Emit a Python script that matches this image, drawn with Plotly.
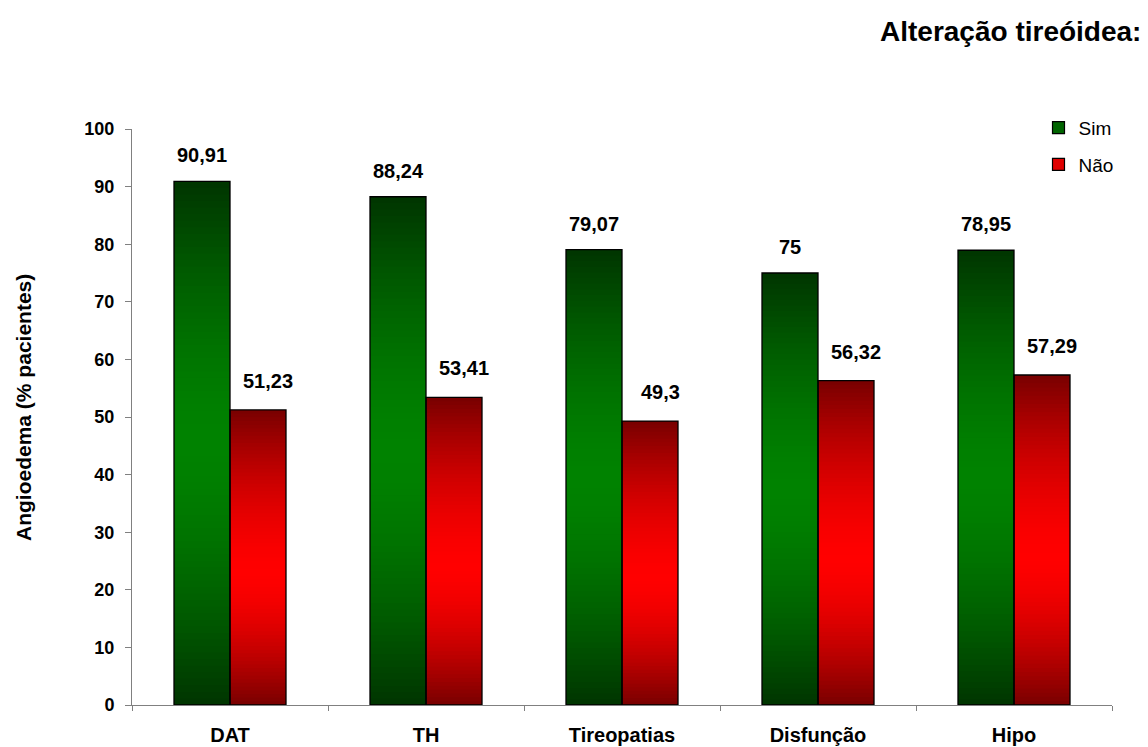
import plotly.graph_objects as go

categories = ["DAT", "TH", "Tireopatias", "Disfunção", "Hipo"]
sim_values = [90.91, 88.24, 79.07, 75.0, 78.95]
nao_values = [51.23, 53.41, 49.3, 56.32, 57.29]
y_ticks = [0, 10, 20, 30, 40, 50, 60, 70, 80, 90, 100]

FONT = "Liberation Sans, Arial, sans-serif"
N_SEG = 80          # slices used to paint the vertical gradient of each bar
BAR_W = 0.2857      # width of one bar, in category units


def fmt(v):
    s = f"{v:.2f}".rstrip("0").rstrip(".")
    return s.replace(".", ",")


def shade(dark, bright, f):
    return "rgb({},{},{})".format(*[round(d + (b - d) * f) for d, b in zip(dark, bright)])


def gradient_trace(values, offset, dark, bright, peak):
    xs, bases, heights, colors = [], [], [], []
    for cat, v in zip(categories, values):
        h = v / N_SEG
        for i in range(N_SEG):
            t = (i + 0.5) / N_SEG
            # bright band near `peak`, darkening toward top and bottom
            if t < peak:
                d = (peak - t) / peak
            else:
                d = (t - peak) / (1 - peak)
            f = 1 - d ** 1.6
            xs.append(cat)
            bases.append(i * h)
            # slices overlap the next one so no seams show between them
            heights.append(h * 2 if i < N_SEG - 1 else h)
            colors.append(shade(dark, bright, f))
    return go.Bar(
        x=xs, y=heights, base=bases, width=BAR_W, offset=offset,
        marker=dict(color=colors, line=dict(width=0)),
        showlegend=False, hoverinfo="skip",
    )


def outline_trace(values, offset):
    return go.Bar(
        x=categories, y=values, width=BAR_W, offset=offset,
        marker=dict(color="rgba(0,0,0,0)", line=dict(color="black", width=1.3)),
        showlegend=False,
    )


fig = go.Figure()
fig.add_trace(gradient_trace(sim_values, -BAR_W, (0, 52, 0), (0, 130, 0), 0.5))
fig.add_trace(gradient_trace(nao_values, 0.0, (120, 0, 0), (255, 0, 0), 0.45))
fig.add_trace(outline_trace(sim_values, -BAR_W))
fig.add_trace(outline_trace(nao_values, 0.0))

# legend entries
fig.add_trace(go.Bar(x=[None], y=[None], name="Sim", legendgroup="a",
                     marker=dict(color="#006400", line=dict(color="black", width=1.2))))
fig.add_trace(go.Bar(x=[None], y=[None], name="Não", legendgroup="b",
                     marker=dict(color="#e00000", line=dict(color="black", width=1.2))))

label_font = dict(family=FONT, size=20, color="black", weight="bold")
annotations = []
for cat, v in zip(categories, sim_values):
    annotations.append(dict(x=cat, y=v, xref="x", yref="y", text=fmt(v), showarrow=False,
                            xshift=-28, yshift=26, yanchor="middle", font=label_font))
for cat, v in zip(categories, nao_values):
    annotations.append(dict(x=cat, y=v, xref="x", yref="y", text=fmt(v), showarrow=False,
                            xshift=38, yshift=29, yanchor="middle", font=label_font))

annotations.append(dict(x=1.0316, y=1.17, xref="paper", yref="paper", xanchor="right",
                        yanchor="middle", showarrow=False, text="Alteração tireóidea:",
                        font=dict(family=FONT, size=28, color="black", weight="bold")))
annotations.append(dict(x=-0.110, y=0.516, xref="paper", yref="paper", textangle=-90,
                        xanchor="center", yanchor="middle",
                        showarrow=False, text="Angioedema (% pacientes)",
                        font=dict(family=FONT, size=21, color="black", weight="bold")))

fig.update_layout(
    width=1148, height=747,
    margin=dict(l=132, r=36, t=129, b=42),
    paper_bgcolor="white", plot_bgcolor="white",
    barmode="overlay",
    showlegend=True,
    legend=dict(x=0.925, y=1.035, xanchor="left", yanchor="top",
                font=dict(family=FONT, size=19, color="black"),
                tracegroupgap=9, bgcolor="rgba(0,0,0,0)", itemwidth=30),
    annotations=annotations,
    xaxis=dict(type="category", categoryorder="array", categoryarray=categories,
               range=[-0.5, 4.5], showline=True, linecolor="#808080", linewidth=1,
               ticks="outside", tickson="boundaries", ticklen=5, tickcolor="#808080",
               showgrid=False, zeroline=False, ticklabelstandoff=12, automargin=False,
               tickfont=dict(family=FONT, size=20, color="black", weight="bold")),
    yaxis=dict(range=[0, 100], tickvals=y_ticks, showline=True, linecolor="#808080",
               linewidth=1, ticks="outside", ticklen=6, tickcolor="#808080",
               showgrid=False, zeroline=False, ticklabelstandoff=7, automargin=False,
               tickfont=dict(family=FONT, size=18, color="black", weight="bold")),
)

fig.write_html("out.html")
